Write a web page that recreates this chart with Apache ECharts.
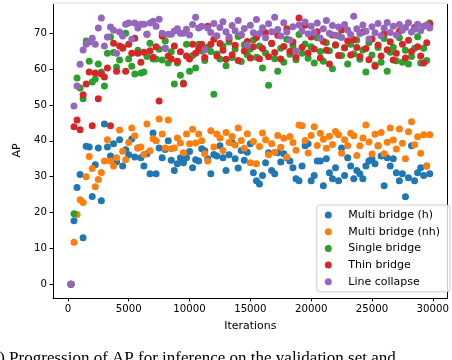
<!DOCTYPE html>
<html>
<head>
<meta charset="utf-8">
<script src="https://cdn.jsdelivr.net/npm/echarts@6/dist/echarts.min.js"></script>
<style>
  html, body { margin: 0; padding: 0; background: #fff; }
  #chart { width: 452px; height: 360px; }
</style>
</head>
<body>
<div id="chart"></div>
<script>
// validation step (iterations)
const iterations = [
  250, 500, 750, 1000, 1250, 1500, 1750, 2000, 2250, 2500, 2750, 3000,
  3250, 3500, 3750, 4000, 4250, 4500, 4750, 5000, 5250, 5500, 5750, 6000,
  6250, 6500, 6750, 7000, 7250, 7500, 7750, 8000, 8250, 8500, 8750, 9000,
  9250, 9500, 9750, 10000, 10250, 10500, 10750, 11000, 11250, 11500, 11750, 12000,
  12250, 12500, 12750, 13000, 13250, 13500, 13750, 14000, 14250, 14500, 14750, 15000,
  15250, 15500, 15750, 16000, 16250, 16500, 16750, 17000, 17250, 17500, 17750, 18000,
  18250, 18500, 18750, 19000, 19250, 19500, 19750, 20000, 20250, 20500, 20750, 21000,
  21250, 21500, 21750, 22000, 22250, 22500, 22750, 23000, 23250, 23500, 23750, 24000,
  24250, 24500, 24750, 25000, 25250, 25500, 25750, 26000, 26250, 26500, 26750, 27000,
  27250, 27500, 27750, 28000, 28250, 28500, 28750, 29000, 29250, 29500, 29750
];

const multiBridgeH = [
  0, 17.7, 27, 30.6, 13, 38.5, 38.3, 24.5, 33.3, 38, 23.3, 44.7,
  38.3, 35.8, 39.2, 34.2, 40.3, 33, 37.5, 36.1, 40.5, 35.5, 38, 35.3,
  33, 36.4, 30.8, 42.2, 30.8, 38, 35.3, 37.6, 40, 34.6, 31.7, 33.6,
  35.3, 33.9, 35.3, 37, 32.5, 34.7, 34.4, 37.8, 37.2, 35, 30.8, 36.2,
  35.8, 38.6, 35.3, 31.7, 36.1, 39.5, 35, 32.4, 37.3, 34.6, 36.8, 39.2,
  31.1, 28.9, 28, 30.3, 33.9, 36.7, 31.7, 30.8, 36.7, 34.1, 36.4, 35.3,
  34.4, 32.5, 29.4, 28.9, 33, 38.6, 39.2, 28.9, 30.3, 34.4, 34.4, 27.5,
  35, 31.1, 29.4, 32.5, 28.9, 38, 30.3, 35.3, 33, 29.4, 31.7, 30.8,
  29.4, 33, 34.4, 35, 33.6, 38.6, 35.8, 27.5, 35.3, 33, 35, 31.1,
  28.9, 30.8, 24.4, 29.7, 38.6, 28.9, 31.1, 32.5, 30.3, 33, 30.8
];

const multiBridgeNh = [
  0, 11.7, 19.5, 23.6, 22.8, 30, 35.6, 32.3, 27.2, 29.2, 31.2, 34.4,
  40.3, 34.4, 33, 35.3, 43, 37.1, 34.7, 39.5, 43.6, 41.4, 38, 38.3,
  36.2, 44.7, 37.2, 40.6, 40, 46.1, 41.9, 38, 45.8, 37.8, 38, 40.8,
  39.4, 36.7, 41.9, 39.2, 43.2, 39.4, 41.9, 40, 36.4, 34.4, 42.8, 38.3,
  41.9, 40.8, 37.3, 42.3, 39.5, 41.2, 38.8, 43.6, 40.1, 37.9, 42, 33.9,
  39.8, 33.6, 38.4, 42.2, 40.3, 36.1, 39.2, 36.8, 41.5, 38.2, 40.7, 35.5,
  41.2, 39.5, 37.4, 44.4, 44.2, 40.1, 36.6, 41.5, 43.9, 38.7, 42.1, 40.4,
  37.9, 41.3, 39, 42.6, 41.7, 36.5, 40.3, 38.6, 42.1, 41.4, 35.9, 38.6,
  40.8, 44.4, 39.7, 36.3, 41.8, 38.6, 42.3, 36.4, 39.6, 43.6, 40.2, 37.7,
  43.3, 39.3, 35, 42.5, 45.3, 38.9, 41.1, 36.5, 41.7, 33, 41.7
];

const singleBridge = [
  0, 19.7, 57.5, 54.7, 51.7, 67.8, 62.2, 56.4, 57.2, 61.4, 59.2, 55.3,
  64.4, 68.9, 64.6, 60.6, 62.5, 66.1, 70, 62.8, 60.8, 58.6, 65.2, 58.9,
  59.2, 63.5, 67.2, 62.8, 62.8, 65.5, 62.5, 67.8, 61.7, 64.8, 55.8, 61.7,
  58.3, 56.1, 66.9, 59.4, 63.8, 60.3, 66.9, 65, 62.4, 66.1, 64.9, 53,
  64.2, 62.8, 66.4, 60.9, 67.5, 63.2, 65.6, 69.1, 62.1, 66.8, 64, 65.6,
  68.1, 63.3, 66.4, 60.3, 64.5, 55.5, 67.1, 62.9, 59.4, 65.8, 61.9, 68.3,
  64.1, 66.5, 62.6, 69.6, 64.4, 67, 63, 66.2, 61.7, 68.7, 64.9, 62.2,
  67.3, 65.1, 60.1, 66.6, 69.2, 63.8, 65.9, 61.4, 66.9, 64.2, 68.1, 62.7,
  65.3, 59.2, 67.4, 63.9, 61.1, 66, 61.9, 68.5, 59.4, 64.7, 66.1, 62.3,
  68.7, 61.9, 65.2, 61.4, 63.5, 65.8, 69, 61.7, 65.8, 62.4, 72.8
];

const thinBridge = [
  0, 43.9, 45.8, 43.1, 52.8, 55.8, 59.2, 44.2, 58.9, 51.7, 58.6, 57.8,
  60.3, 44.2, 67.2, 59.4, 66.4, 65.8, 59.4, 66.9, 64.4, 68.6, 64.4, 61.9,
  64.7, 69.7, 65.1, 63.3, 66.2, 51.1, 69.2, 65.8, 63.6, 62.8, 66.4, 62.2,
  64.8, 55.8, 63.6, 62.8, 66.9, 64.4, 65.8, 66.9, 63.2, 71.9, 66.9, 68.3,
  63.6, 67.1, 65.2, 62.7, 68.4, 64, 66.6, 62.4, 69.5, 65, 67.7, 63.1,
  66.2, 68.8, 62.9, 65.7, 70.1, 63.4, 67.2, 64.6, 69.4, 62.8, 66.3, 71.2,
  64.9, 67.5, 63.3, 74.2, 66.1, 72.2, 64.5, 68.9, 65.6, 70.4, 63.1, 67.7,
  65.2, 61.4, 69.5, 66.8, 63.8, 70.9, 65.9, 67.8, 63.9, 68.2, 66, 63.5,
  70.3, 65.7, 62.6, 68.4, 60.8, 66.7, 63.6, 69.8, 65.4, 67.6, 62.5, 64.4,
  70.5, 66.9, 63.1, 68, 64.9, 71.6, 66.2, 63.6, 61.7, 67.3, 72.5
];

const lineCollapse = [
  0, 49.7, 55.3, 61.3, 65.3, 66.9, 67.5, 68.6, 66.9, 71.4, 74.2, 66.4,
  68.9, 71.7, 70.8, 64.4, 70.3, 69.2, 72.5, 72.8, 68.3, 72.8, 71.4, 72.5,
  72.5, 69.7, 72.8, 73.3, 71.9, 73.9, 70, 65.8, 69.7, 69.7, 70.6, 71.2,
  70, 70, 71.1, 69.5, 72.4, 74.4, 71.4, 71.9, 65.3, 71.4, 70.2, 72.7,
  69.3, 71.6, 73.2, 70.4, 68.9, 72.1, 70.7, 73.5, 69.6, 71.3, 66.7, 72.2,
  70.1, 73.8, 69.9, 71.5, 68.7, 72.6, 70.4, 74.4, 71, 69.2, 72.9, 70.3,
  68.1, 71.8, 65, 72.3, 70.6, 73.1, 69.8, 71.9, 70.2, 72.8, 68.6, 71.2,
  73.5, 70, 72.1, 69.4, 71.7, 68.8, 72.4, 70.9, 69.6, 74.7, 71.2, 69.9,
  72.3, 70.5, 68.4, 71.8, 70.1, 72.7, 69.3, 71.4, 73, 70.2, 71.9, 69.5,
  72.4, 70.8, 71.6, 72.9, 70.3, 71.1, 72.5, 70.7, 71.9, 72.3, 71.4
];

const seriesNames = ['Multi bridge (h)', 'Multi bridge (nh)', 'Single bridge', 'Thin bridge', 'Line collapse'];
const seriesValues = [multiBridgeH, multiBridgeNh, singleBridge, thinBridge, lineCollapse];
const colors = ['#1f77b4', '#ff7f0e', '#2ca02c', '#d62728', '#9467bd'];

const xTicks = [0, 5000, 10000, 15000, 20000, 25000, 30000];
const yTicks = [0, 10, 20, 30, 40, 50, 60, 70];

const font = 'DejaVu Sans';

let chart = echarts.init(document.getElementById('chart'), null, { renderer: 'canvas' });

let option = {
  animation: false,
  backgroundColor: '#fff',
  color: colors,
  grid: { left: 53, right: 1, top: 3, bottom: 62, containLabel: false },
  xAxis: [
    {
      type: 'value',
      min: -1225,
      max: 31225,
      name: 'Iterations',
      nameLocation: 'middle',
      nameGap: 23,
      nameTextStyle: { fontFamily: font, fontSize: 11, color: '#000' },
      axisLine: { show: true, onZero: false, lineStyle: { color: '#000', width: 1 } },
      axisTick: { show: true, inside: false, length: 3.5, customValues: xTicks, lineStyle: { color: '#000' } },
      axisLabel: {
        customValues: xTicks,
        margin: 6,
        fontFamily: font,
        fontSize: 10.2,
        color: '#000',
        formatter: (v) => String(v)
      },
      splitLine: { show: false }
    },
    {
      // top spine
      type: 'value',
      position: 'top',
      min: -1225,
      max: 31225,
      axisLine: { show: true, onZero: false, lineStyle: { color: '#ececec', width: 2 } },
      axisTick: { show: false },
      axisLabel: { show: false },
      splitLine: { show: false }
    }
  ],
  yAxis: [
    {
      type: 'value',
      min: -3.8,
      max: 78.4,
      name: 'AP',
      nameLocation: 'middle',
      nameGap: 20,
      nameTextStyle: { fontFamily: font, fontSize: 11, color: '#000' },
      axisLine: { show: true, onZero: false, lineStyle: { color: '#000', width: 1 } },
      axisTick: { show: true, inside: false, length: 3.5, customValues: yTicks, lineStyle: { color: '#000' } },
      axisLabel: {
        customValues: yTicks,
        margin: 6,
        fontFamily: font,
        fontSize: 10.2,
        color: '#000',
        formatter: (v) => String(v)
      },
      splitLine: { show: false }
    },
    {
      // right spine
      type: 'value',
      position: 'right',
      min: -3.8,
      max: 78.4,
      axisLine: { show: true, onZero: false, lineStyle: { color: '#000', width: 1 } },
      axisTick: { show: false },
      axisLabel: { show: false },
      splitLine: { show: false }
    }
  ],
  legend: {
    orient: 'vertical',
    right: 2,
    top: 205,
    icon: 'circle',
    itemWidth: 14,
    itemHeight: 7,
    itemGap: 5.7,
    padding: [4.5, 10, 4.5, 8],
    backgroundColor: 'rgba(255,255,255,0.8)',
    borderColor: '#cccccc',
    borderWidth: 1,
    borderRadius: 3,
    textStyle: { fontFamily: font, fontSize: 11, lineHeight: 11, color: '#000', padding: [0, 0, 0, 8] },
    data: seriesNames
  },
  graphic: [
    {
      type: 'text',
      left: -14,
      top: 350,
      style: {
        text: '(a) Progression of AP for inference on the validation set and',
        font: '17px "Liberation Serif"',
        fill: '#000'
      }
    }
  ],
  series: seriesNames.map((name, i) => ({
    name: name,
    type: 'scatter',
    symbol: 'circle',
    symbolSize: 7,
    itemStyle: { color: colors[i], opacity: 1 },
    emphasis: { disabled: true },
    data: iterations.map((it, j) => [it, seriesValues[i][j]])
  }))
};

chart.setOption(option);
</script>
</body>
</html>
